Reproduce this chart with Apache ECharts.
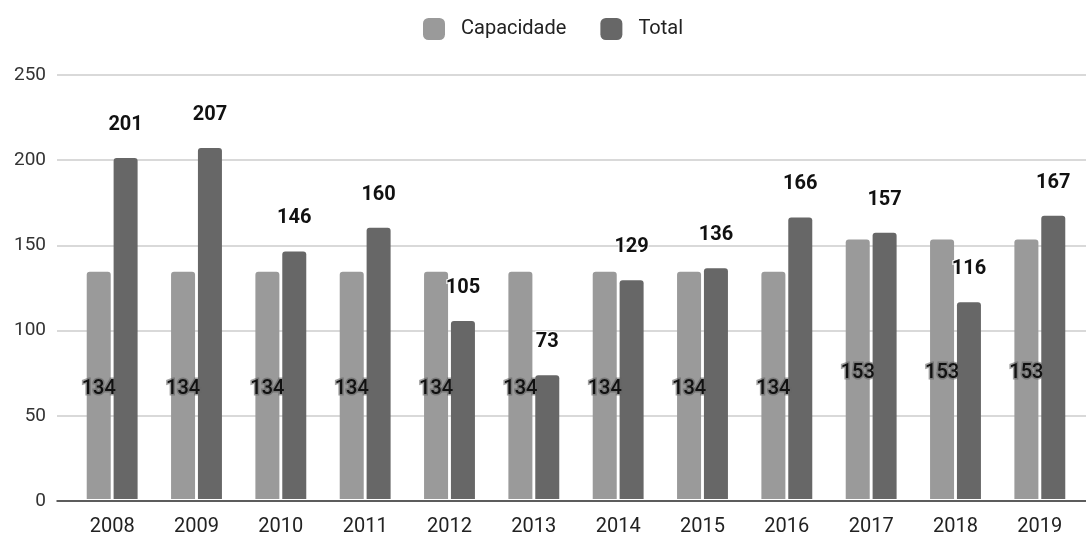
<!DOCTYPE html>
<html>
<head>
<meta charset="utf-8">
<script src="https://cdn.jsdelivr.net/npm/echarts@6/dist/echarts.min.js"></script>
<style>
  html, body { margin: 0; padding: 0; background: #fff; }
  #chart { width: 1086px; height: 537px; }
</style>
</head>
<body>
<div id="chart"></div>
<script>
// Chart data
const years = ['2008', '2009', '2010', '2011', '2012', '2013', '2014', '2015', '2016', '2017', '2018', '2019'];
const capacidade = [134, 134, 134, 134, 134, 134, 134, 134, 134, 153, 153, 153];
const total = [201, 207, 146, 160, 105, 73, 129, 136, 166, 157, 116, 167];
const yTicks = { min: 0, max: 250, interval: 50 };

const FONT = 'Roboto, "Noto Sans", sans-serif';
const chart = echarts.init(document.getElementById('chart'));

chart.setOption({
  animation: false,
  textStyle: { fontFamily: FONT },
  legend: {
    top: 13,
    left: 418,
    itemWidth: 22,
    itemHeight: 22,
    itemGap: 34,
    icon: 'roundRect',
    textStyle: { fontSize: 20, color: '#222', fontFamily: FONT, padding: [0, 0, 0, 11] },
    data: ['Capacidade', 'Total']
  },
  grid: [
    // background grid carrying the value axis, gridlines and baseline
    { left: 57, right: 0, top: 75, bottom: 36 },
    // grid holding the bars
    { left: 70, right: 4, top: 75, bottom: 36 }
  ],
  xAxis: [
    {
      gridIndex: 0, type: 'value', min: 0, max: 1,
      axisLine: { show: true, lineStyle: { color: '#333', width: 1.5 } },
      axisTick: { show: false }, axisLabel: { show: false }, splitLine: { show: false }
    },
    {
      gridIndex: 1, type: 'category', data: years,
      axisLine: { show: false }, axisTick: { show: false },
      axisLabel: { color: '#222', fontSize: 20, margin: 18, fontFamily: FONT }
    }
  ],
  yAxis: [
    {
      gridIndex: 0, type: 'value', min: yTicks.min, max: yTicks.max, interval: yTicks.interval,
      axisLine: { show: false }, axisTick: { show: false },
      axisLabel: { color: '#333', fontSize: 19, margin: 11, fontFamily: FONT },
      splitLine: { lineStyle: { color: '#ccc', width: 1.5 } }
    },
    {
      gridIndex: 1, type: 'value', min: yTicks.min, max: yTicks.max, interval: yTicks.interval,
      show: false, splitLine: { show: false }
    }
  ],
  series: [
    {
      name: 'Capacidade', type: 'bar', xAxisIndex: 1, yAxisIndex: 1,
      data: capacidade, barWidth: 24, barGap: '12%',
      itemStyle: { color: '#9a9a9a', borderRadius: [3, 3, 0, 0] },
      label: {
        show: true, position: 'inside', offset: [0, 4], color: '#111', fontSize: 20,
        fontWeight: 500, fontFamily: FONT,
        textBorderColor: 'rgba(100,100,100,0.6)', textBorderWidth: 3
      }
    },
    {
      name: 'Total', type: 'bar', xAxisIndex: 1, yAxisIndex: 1,
      data: total, barWidth: 24,
      itemStyle: { color: '#676767', borderRadius: [3, 3, 0, 0] },
      label: {
        show: true, position: 'top', distance: 23, color: '#111', fontSize: 20,
        fontWeight: 'bold', fontFamily: FONT,
        textBorderColor: '#fff', textBorderWidth: 2
      }
    }
  ]
});
</script>
</body>
</html>
